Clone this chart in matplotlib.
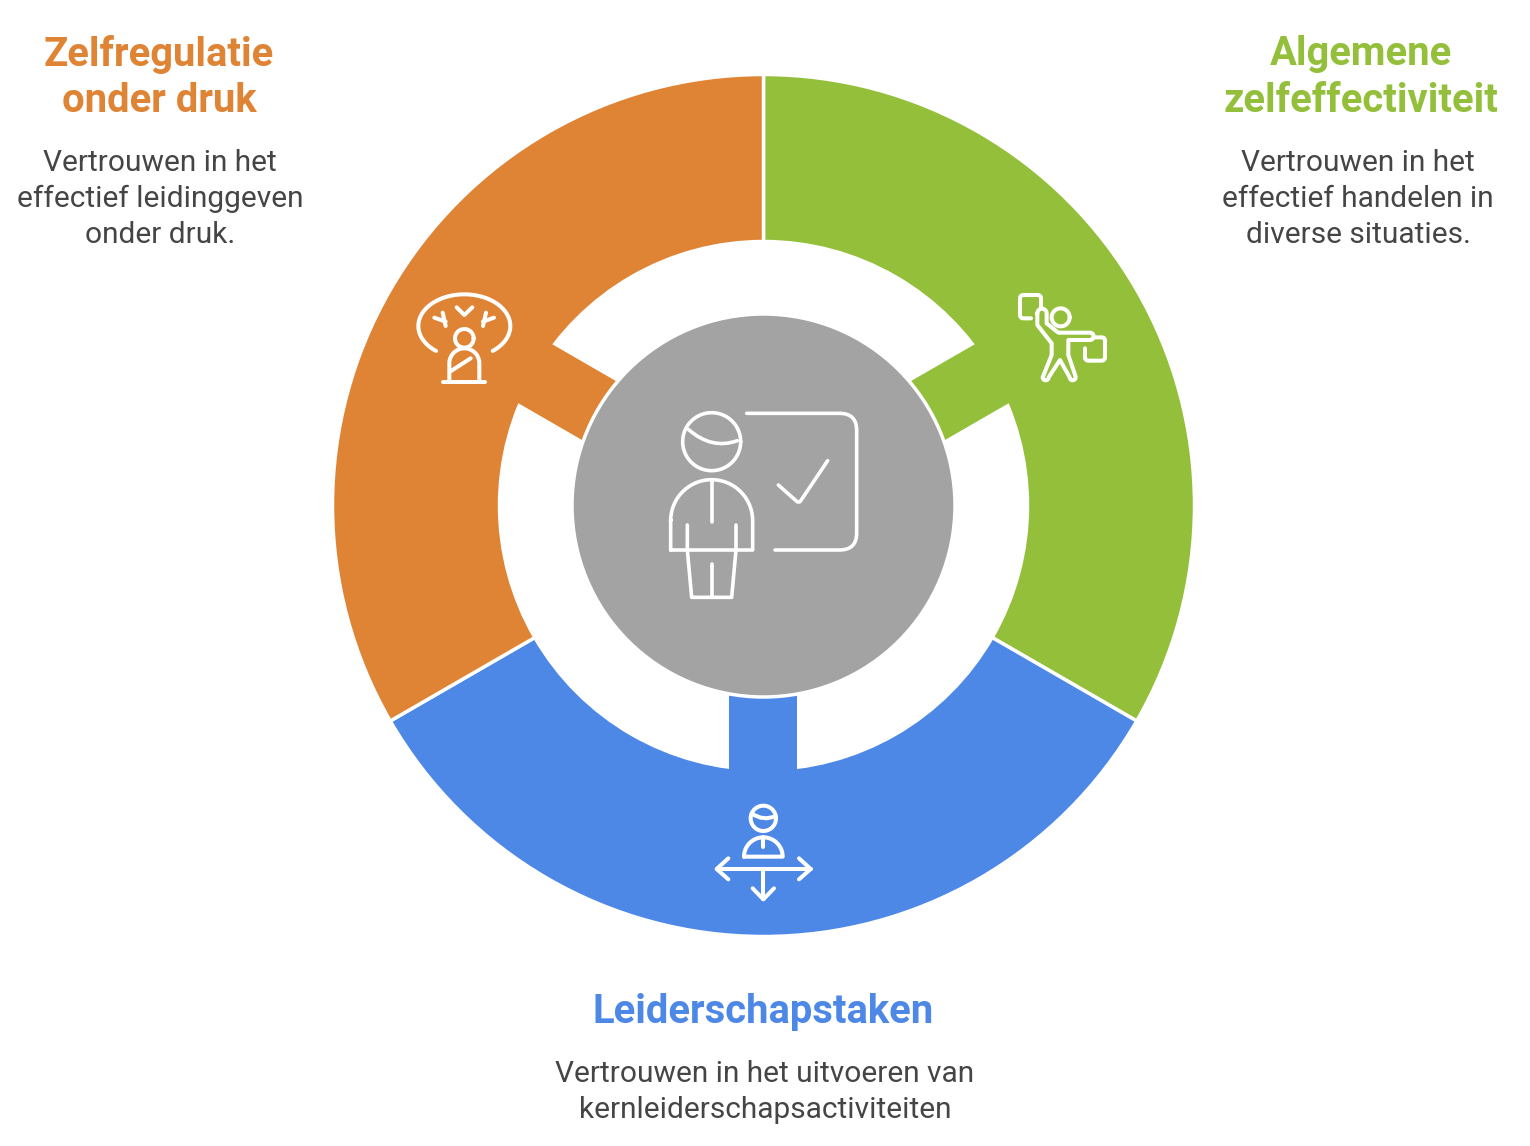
import numpy as np
import matplotlib
matplotlib.use("Agg")
import matplotlib.pyplot as plt
from matplotlib.patches import Circle, Polygon, PathPatch
from matplotlib.path import Path

plt.rcParams['font.family'] = ['Roboto', 'DejaVu Sans']

W, H = 1530, 1146

# chart data, clockwise from the top
shares = [120, 120, 120]
colors = ["#93BF3B", "#4E88E7", "#DF8334"]
connector_angles = [30, 270, 150]
hub_color = "#A3A3A3"
text_color = "#454545"

titles = ["Algemene\nzelfeffectiviteit", "Leiderschapstaken", "Zelfregulatie\nonder druk"]
bodies = [
    "Vertrouwen in het\neffectief handelen in\ndiverse situaties.",
    "Vertrouwen in het uitvoeren van\nkernleiderschapsactiviteiten",
    "Vertrouwen in het\neffectief leidinggeven\nonder druk.",
]

CX, CY = 763.5, 505.5
R_OUT, R_IN, R_HUB = 431, 264, 191.5
WHITE = "white"


def py(y):
    return H - y


def stroke(ax, pts, ox=0, oy=0, s=1.0, lw=2.9, radius=0, closed=False):
    """Draw a white icon line; pts are in pixels, radius rounds the corners."""
    pts = [(ox + x * s, py(oy + y * s)) for x, y in pts]
    if closed:
        pts = pts + [pts[0]]
    verts = [pts[0]]
    codes = [Path.MOVETO]
    for i in range(1, len(pts)):
        p = np.array(pts[i], dtype=float)
        if radius > 0 and i < len(pts) - 1:
            a = np.array(pts[i - 1], dtype=float)
            b = np.array(pts[i + 1], dtype=float)
            p1 = p + (a - p) / np.linalg.norm(a - p) * min(radius, np.linalg.norm(a - p) / 2)
            p2 = p + (b - p) / np.linalg.norm(b - p) * min(radius, np.linalg.norm(b - p) / 2)
            verts += [tuple(p1), tuple(p), tuple(p2)]
            codes += [Path.LINETO, Path.CURVE3, Path.CURVE3]
        else:
            verts.append(tuple(p))
            codes.append(Path.LINETO)
    ax.add_patch(PathPatch(Path(verts, codes), fill=False, ec=WHITE, lw=lw,
                           capstyle="round", joinstyle="round", zorder=6))


def curve(ax, a, b, c, ox=0, oy=0, s=1.0, lw=2.9):
    """Quadratic curve through control point b."""
    pts = [(ox + x * s, py(oy + y * s)) for x, y in (a, b, c)]
    ax.add_patch(PathPatch(Path(pts, [Path.MOVETO, Path.CURVE3, Path.CURVE3]), fill=False,
                           ec=WHITE, lw=lw, capstyle="round", zorder=6))


def arc_pts(cx, cy, rx, ry, a0, a1, n=40):
    t = np.radians(np.linspace(a0, a1, n))
    return list(zip(cx + rx * np.cos(t), cy - ry * np.sin(t)))


fig = plt.figure(figsize=(W / 100, H / 100), dpi=100)
ax = fig.add_axes([0, 0, 1, 1])

ax.pie(shares, colors=colors, startangle=90, counterclock=False,
       center=(CX, py(CY)), radius=R_OUT, frame=True,
       wedgeprops=dict(width=R_OUT - R_IN, edgecolor=WHITE, linewidth=2.5))

# connectors between the ring and the hub
half = 34
for ang, col in zip(connector_angles, colors):
    t = np.radians(ang)
    d = np.array([np.cos(t), np.sin(t)])
    n = np.array([-d[1], d[0]])
    c = np.array([CX, py(CY)])
    corners = [c + d * 170 + n * half, c + d * 285 + n * half,
               c + d * 285 - n * half, c + d * 170 - n * half]
    ax.add_patch(Polygon(corners, closed=True, fc=col, ec="none", zorder=3))

ax.add_patch(Circle((CX, py(CY)), R_HUB, fc=hub_color, ec=WHITE, lw=2.5, zorder=4))

ax.set_xlim(0, W)
ax.set_ylim(0, H)
ax.set_aspect("equal")
ax.axis("off")

# centre icon, pixel offsets from the zoomed crop
o = (640, 390, 1 / 3)
lw = 2.6
stroke(ax, arc_pts(215, 155, 87, 87, 0, 360, 80), *o, lw=lw, closed=True)
curve(ax, (145, 118), (215, 180), (292, 152), *o, lw=lw)
stroke(ax, [(92, 480), (92, 390)] + arc_pts(215, 392, 123, 123, 180, 0) + [(338, 480), (92, 480)], *o, lw=lw)
stroke(ax, [(215, 272), (215, 395)], *o, lw=lw)
stroke(ax, [(142, 405), (142, 480), (155, 622), (275, 622), (288, 480), (288, 405)], *o, lw=lw)
stroke(ax, [(215, 522), (215, 622)], *o, lw=lw)
stroke(ax, [(320, 70), (650, 70), (650, 480), (405, 480)], *o, lw=lw, radius=17)
stroke(ax, [(415, 285), (477, 340), (563, 212)], *o, lw=lw, radius=3)

# orange icon
o = (400, 275, 1 / 3)
stroke(ax, arc_pts(193, 153, 138, 95, -52, 232, 70), *o)
stroke(ax, [(170, 97), (193, 120), (217, 97)], *o)
stroke(ax, [(103, 128), (137, 140)], *o)
stroke(ax, [(128, 113), (137, 153)], *o)
stroke(ax, [(282, 128), (249, 140)], *o)
stroke(ax, [(258, 113), (249, 153)], *o)
stroke(ax, arc_pts(193, 190, 28, 28, 0, 360), *o, closed=True)
stroke(ax, [(148, 320), (148, 265)] + arc_pts(193, 265, 45, 45, 180, 0) + [(238, 320)], *o)
stroke(ax, [(130, 320), (255, 320)], *o)
stroke(ax, [(150, 290), (212, 250)], *o)

# green icon
o = (1005, 280, 1 / 3)
stroke(ax, [(108, 85), (108, 45), (45, 45), (45, 115), (78, 115)], *o, radius=3.5)
stroke(ax, arc_pts(167, 112, 27, 27, 0, 360), *o, closed=True)
stroke(ax, arc_pts(111, 100, 14, 14, 180, 0, 12) + [(125, 130), (160, 158), (255, 158)]
       + arc_pts(255, 169, 11, 11, 90, -90, 10)
       + [(190, 180), (190, 225), (212, 290)] + arc_pts(203, 292, 9, 9, 0, -180, 8)
       + [(165, 240), (131, 292)] + arc_pts(122, 292, 9, 9, 0, -180, 8)
       + [(140, 225), (140, 190), (97, 135), (97, 100)], *o)
stroke(ax, [(265, 172), (300, 172), (300, 242), (240, 242), (240, 205)], *o, radius=3.5)

# blue icon
o = (700, 790, 1 / 3)
stroke(ax, arc_pts(190, 85, 38, 38, 0, 360), *o, closed=True)
curve(ax, (155, 70), (190, 95), (227, 78), *o)
stroke(ax, [(132, 200)] + arc_pts(190, 200, 58, 58, 180, 0) + [(132, 200)], *o)
stroke(ax, [(190, 142), (190, 172)], *o)
stroke(ax, [(50, 237), (332, 237)], *o)
stroke(ax, [(85, 205), (50, 237), (85, 268)], *o)
stroke(ax, [(297, 205), (332, 237), (297, 268)], *o)
stroke(ax, [(190, 237), (190, 328)], *o)
stroke(ax, [(158, 295), (190, 328), (222, 295)], *o)

# labels
title_pos = [(1361, 54), (763, 1012), (159, 54)]
body_pos = [(1358, 163), (765, 1074), (160, 163)]
for title, body_txt, col, tp, bp in zip(titles, bodies, colors, title_pos, body_pos):
    for i, line in enumerate(title.split("\n")):
        ax.text(tp[0], py(tp[1] + i * 47.5), line, color=col, fontsize=28.8, fontweight="bold",
                ha="center", va="center")
    for i, line in enumerate(body_txt.split("\n")):
        ax.text(bp[0], py(bp[1] + i * 36), line, color=text_color, fontsize=21.5,
                ha="center", va="center")

fig.savefig("out.png", dpi=100, facecolor="white")
